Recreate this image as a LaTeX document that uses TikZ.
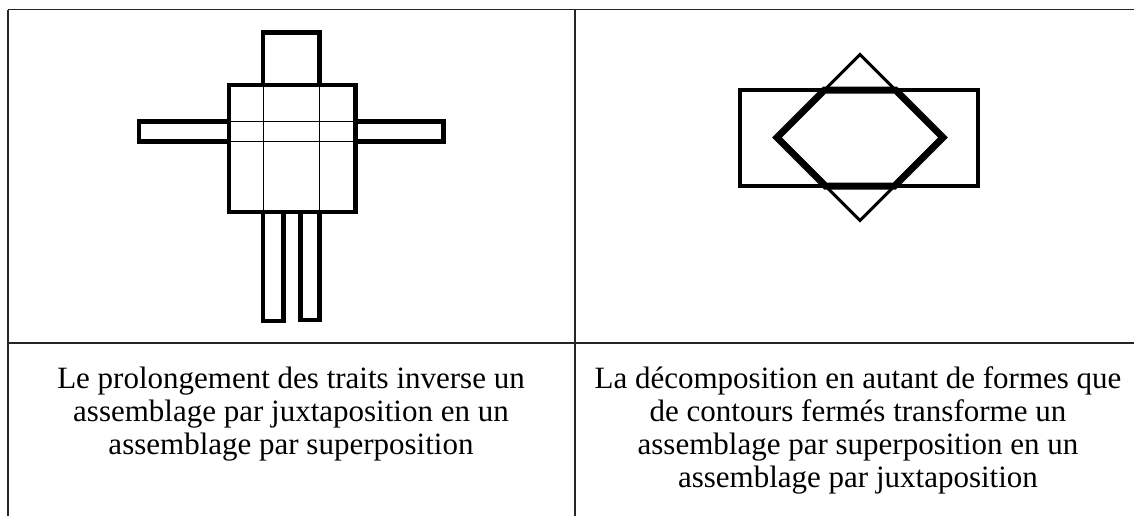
\documentclass[tikz,border=0pt]{standalone}
\usepackage{fontspec}
\setmainfont{Liberation Serif}
\begin{document}
\begin{tikzpicture}[x=1pt,y=-1pt,
  rule/.style={draw=black!85,line width=1.8pt},
  thickbox/.style={draw=black,line width=4.5pt,line join=miter},
  thinline/.style={draw=black,line width=1.1pt},
  framebox/.style={draw=black,line width=3.8pt,line join=miter},
  triline/.style={draw=black,line width=3pt,line join=miter},
  hexline/.style={draw=black,line width=7pt,line join=miter},
  caption/.style={align=center,inner sep=0pt,anchor=base,
    font=\fontsize{31}{33}\selectfont}]
\useasboundingbox (0,0) rectangle (1134,515);
% table rules
\coordinate (tl) at (8,9.5);
\coordinate (tr) at (1140,9.5);
\coordinate (bl) at (8,520);
\coordinate (mt) at (575,9.5);
\coordinate (mb) at (575,520);
\coordinate (hl) at (8,343);
\coordinate (hr) at (1140,343);
\draw[rule] (tl) -- (tr);
\draw[rule] (tl) -- (bl);
\draw[rule] (mt) -- (mb);
\draw[rule] (hl) -- (hr);
% figure 1: juxtaposition
\draw[thinline] (263.5,85) -- (263.5,212);
\draw[thinline] (319.5,85) -- (319.5,212);
\draw[thinline] (229,121.6) -- (355.5,121.6);
\draw[thinline] (229,141.7) -- (355.5,141.7);
\draw[thickbox] (263,32.3) rectangle (319.5,85);
\draw[thickbox] (229,85) rectangle (355.5,212);
\draw[thickbox] (139,121.6) rectangle (229,141.7);
\draw[thickbox] (355.5,121.6) rectangle (443.7,141.7);
\draw[thickbox] (263,212) rectangle (283.4,321);
\draw[thickbox] (300.5,212) rectangle (319.5,320);
% figure 2: superposition
\draw[triline] (860,54.5) -- (943,137.5) -- (860,220.5) -- (777,137.5) -- cycle;
\draw[framebox] (740,90) rectangle (978,186);
\draw[hexline] (824.5,90) -- (895.5,90) -- (943,137.5) -- (894.5,186)
   -- (825.5,186) -- (777,137.5) -- cycle;
% captions (base anchor = baseline of last line)
\node[caption] (c1) at (291,454.3) {Le prolongement des traits inverse un\\assemblage par juxtaposition en un\\assemblage par superposition};
\node[caption] (c2) at (858,487.3) {La décomposition en autant de formes que\\de contours fermés transforme un\\assemblage par superposition en un\\assemblage par juxtaposition};
\end{tikzpicture}
\end{document}
